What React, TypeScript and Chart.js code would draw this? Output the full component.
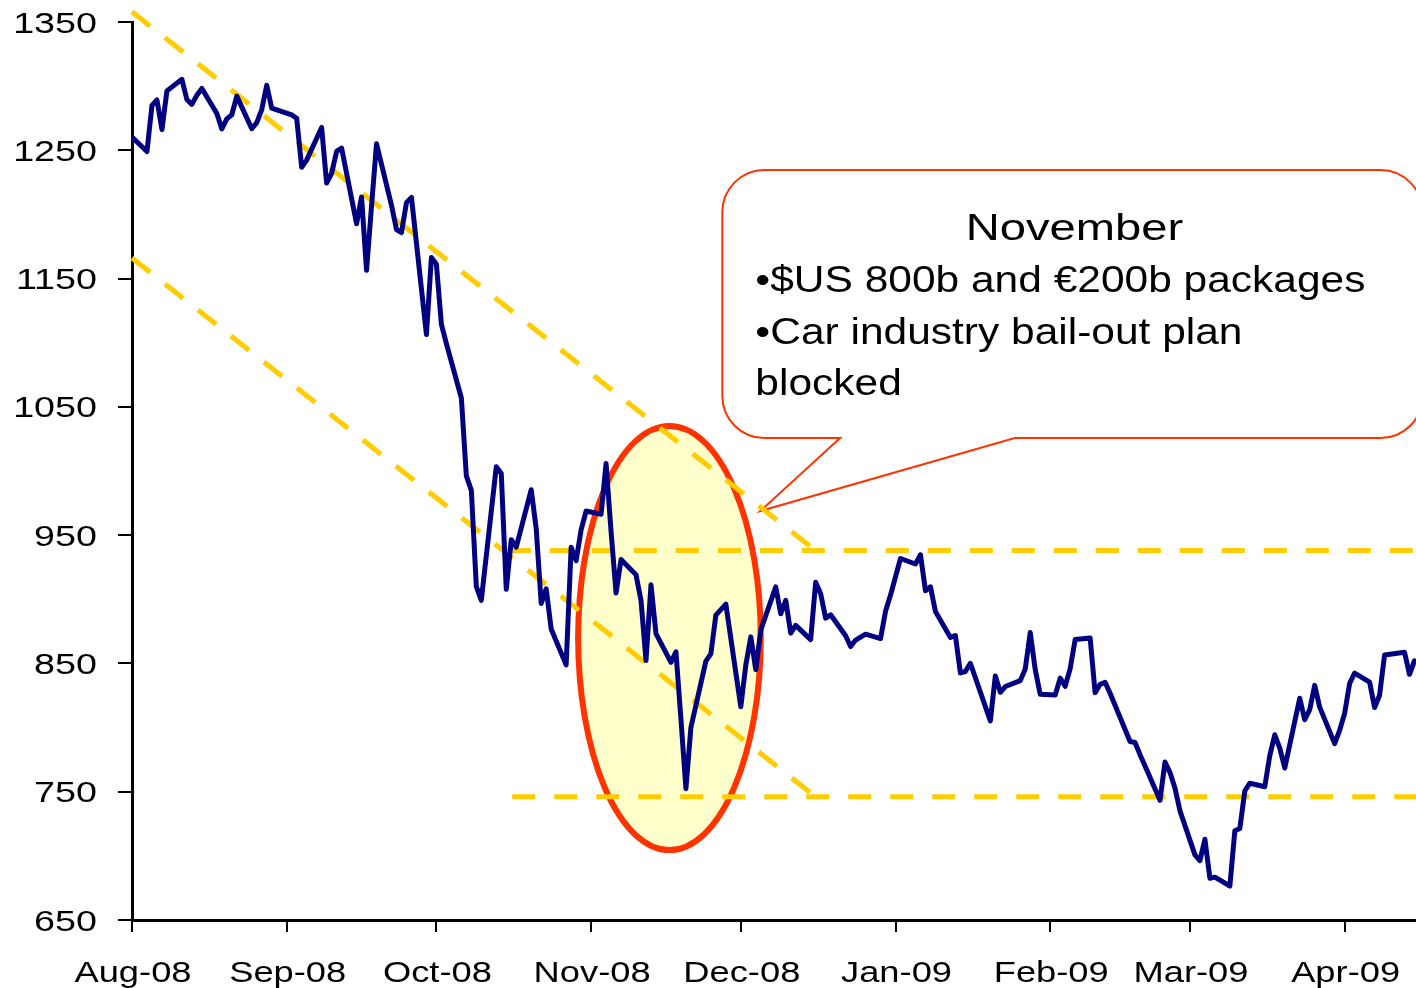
import React, { useEffect, useRef } from "react";
import { Chart, registerables } from "chart.js";

Chart.register(...registerables);

// ---- Data (daily closes, Aug-08 .. Apr-09) ----
const tradeDates: string[] = [
  "2008-08-01","2008-08-04","2008-08-05","2008-08-06","2008-08-07","2008-08-08","2008-08-11","2008-08-12","2008-08-13","2008-08-14","2008-08-15","2008-08-18","2008-08-19","2008-08-20","2008-08-21","2008-08-22","2008-08-25","2008-08-26","2008-08-27","2008-08-28","2008-08-29",
  "2008-09-02","2008-09-03","2008-09-04","2008-09-05","2008-09-08","2008-09-09","2008-09-10","2008-09-11","2008-09-12","2008-09-15","2008-09-16","2008-09-17","2008-09-18","2008-09-19","2008-09-22","2008-09-23","2008-09-24","2008-09-25","2008-09-26","2008-09-29","2008-09-30",
  "2008-10-01","2008-10-02","2008-10-03","2008-10-06","2008-10-07","2008-10-08","2008-10-09","2008-10-10","2008-10-13","2008-10-14","2008-10-15","2008-10-16","2008-10-17","2008-10-20","2008-10-21","2008-10-22","2008-10-23","2008-10-24","2008-10-27","2008-10-28","2008-10-29","2008-10-30","2008-10-31",
  "2008-11-03","2008-11-04","2008-11-05","2008-11-06","2008-11-07","2008-11-10","2008-11-11","2008-11-12","2008-11-13","2008-11-14","2008-11-17","2008-11-18","2008-11-19","2008-11-20","2008-11-21","2008-11-24","2008-11-25","2008-11-26","2008-11-28",
  "2008-12-01","2008-12-02","2008-12-03","2008-12-04","2008-12-05","2008-12-08","2008-12-09","2008-12-10","2008-12-11","2008-12-12","2008-12-15","2008-12-16","2008-12-17","2008-12-18","2008-12-19","2008-12-22","2008-12-23","2008-12-24","2008-12-26","2008-12-29","2008-12-30","2008-12-31",
  "2009-01-02","2009-01-05","2009-01-06","2009-01-07","2009-01-08","2009-01-09","2009-01-12","2009-01-13","2009-01-14","2009-01-15","2009-01-16","2009-01-20","2009-01-21","2009-01-22","2009-01-23","2009-01-26","2009-01-27","2009-01-28","2009-01-29","2009-01-30",
  "2009-02-02","2009-02-03","2009-02-04","2009-02-05","2009-02-06","2009-02-09","2009-02-10","2009-02-11","2009-02-12","2009-02-13","2009-02-17","2009-02-18","2009-02-19","2009-02-20","2009-02-23","2009-02-24","2009-02-25","2009-02-26","2009-02-27",
  "2009-03-02","2009-03-03","2009-03-04","2009-03-05","2009-03-06","2009-03-09","2009-03-10","2009-03-11","2009-03-12","2009-03-13","2009-03-16","2009-03-17","2009-03-18","2009-03-19","2009-03-20","2009-03-23","2009-03-24","2009-03-25","2009-03-26","2009-03-27","2009-03-30","2009-03-31",
  "2009-04-01","2009-04-02","2009-04-03","2009-04-06","2009-04-07","2009-04-08","2009-04-09","2009-04-13","2009-04-14","2009-04-15",
];

const closes: number[] = [
  1260.3,1249.0,1284.9,1289.2,1266.1,1296.3,1305.3,1289.6,1285.8,1292.9,1298.2,1278.6,1266.7,1274.5,1277.7,1292.2,1266.8,1271.5,1281.7,1300.7,1282.8,
  1277.6,1275.0,1236.8,1242.3,1267.8,1224.5,1232.0,1249.1,1251.7,1192.7,1213.6,1156.4,1206.5,1255.1,1207.1,1188.2,1185.9,1209.2,1213.3,1106.4,1166.4,
  1161.1,1114.3,1099.2,1056.9,996.2,984.9,909.9,899.2,1003.4,998.0,907.8,946.4,940.6,985.4,955.1,896.8,908.1,876.8,848.9,940.5,930.1,954.1,968.8,
  966.3,1005.8,952.8,904.9,931.0,919.2,899.0,852.3,911.3,873.3,850.8,859.1,806.6,752.4,800.0,851.8,857.4,887.7,896.2,
  816.2,848.8,870.7,845.2,876.1,909.7,888.7,899.2,873.6,879.7,868.6,913.2,904.4,885.3,887.9,871.6,863.2,868.2,872.8,869.4,890.6,903.3,
  931.8,927.5,934.7,906.7,909.7,890.4,870.3,871.8,842.6,843.7,850.1,805.2,840.2,827.5,832.0,836.6,845.7,874.1,845.1,825.9,
  825.4,838.5,832.2,845.9,868.6,869.9,827.2,833.7,835.2,826.8,789.2,788.4,778.9,770.1,743.3,773.1,764.9,752.8,735.1,
  700.8,696.3,712.9,682.6,683.4,676.5,719.6,721.4,750.7,756.6,753.9,778.1,794.4,784.0,768.5,822.9,806.1,813.9,832.9,815.9,787.5,797.9,
  811.1,834.4,842.5,835.5,815.6,825.2,856.6,858.7,841.5,852.1,
];

const monthTickDates = ["2008-08-01","2008-09-01","2008-10-01","2008-11-01","2008-12-01","2009-01-01","2009-02-01","2009-03-01","2009-04-01"];
const monthTickLabels = ["Aug-08","Sep-08","Oct-08","Nov-08","Dec-08","Jan-09","Feb-09","Mar-09","Apr-09"];
const yTickValues = [650, 750, 850, 950, 1050, 1150, 1250, 1350];

// trend channel (day offset from 1 Aug 2008, index level)
const channelUpperDays = [0, 137];
const channelUpperValues = [1358, 938];
const channelLowerDays = [0, 137];
const channelLowerValues = [1166, 746];
const resistanceDays = [75.3, 257.3];
const resistanceValues = [938, 938];
const supportDays = [76.2, 257.3];
const supportValues = [746, 746];

const calloutTitle = "November";
const calloutLines = ["•$US 800b and €200b packages", "•Car industry bail-out plan", "blocked"];

const X_MIN = 0;
const X_MAX = 257.3;
const Y_MIN = 650;
const Y_MAX = 1350;

const FONT = "'Liberation Sans', Arial, sans-serif";

const dayOf = (iso: string) => {
  const [y, m, d] = iso.split("-").map(Number);
  return (Date.UTC(y, m - 1, d) - Date.UTC(2008, 7, 1)) / 86400000;
};

const pts = (xs: number[], ys: number[]) => xs.map((x, i) => ({ x, y: ys[i] }));

const annotPlugin = {
  id: "annot",
  beforeDatasetsDraw(chart: any) {
    const { ctx } = chart;
    const xs = chart.scales.x;
    const ys = chart.scales.y;
    const px = (d: number) => xs.getPixelForValue(d);
    const py = (v: number) => ys.getPixelForValue(v);

    // highlight ellipse around November
    const ecx = px(107.7), ecy = py(869.8);
    const erx = px(107.7 + 18.3) - ecx;
    const ery = ecy - py(869.8 + 165.3);
    ctx.save();
    ctx.beginPath();
    ctx.ellipse(ecx, ecy, erx, ery, 0, 0, Math.PI * 2);
    ctx.fillStyle = "#FFFFCC";
    ctx.fill();
    ctx.lineWidth = 6;
    ctx.strokeStyle = "#FF3300";
    ctx.stroke();
    ctx.restore();

    // callout box
    const L = px(118.3), R = px(258.6), T = py(1234.6), B = py(1025.7);
    const r = 42;
    const b1 = px(141.9), b2 = px(176.9);
    const tx = px(125.9), ty = py(968.8);
    ctx.save();
    ctx.beginPath();
    ctx.moveTo(L + r, T);
    ctx.lineTo(R - r, T);
    ctx.arcTo(R, T, R, T + r, r);
    ctx.lineTo(R, B - r);
    ctx.arcTo(R, B, R - r, B, r);
    ctx.lineTo(b2, B);
    ctx.lineTo(tx, ty);
    ctx.lineTo(b1, B);
    ctx.lineTo(L + r, B);
    ctx.arcTo(L, B, L, B - r, r);
    ctx.lineTo(L, T + r);
    ctx.arcTo(L, T, L + r, T, r);
    ctx.closePath();
    ctx.fillStyle = "#FFFFFF";
    ctx.fill();
    ctx.lineWidth = 2;
    ctx.strokeStyle = "#FF3300";
    ctx.stroke();

    ctx.fillStyle = "#000000";
    ctx.font = `36px ${FONT}`;
    ctx.textBaseline = "alphabetic";
    // title
    ctx.save();
    ctx.translate((L + R) / 2 + 2, T + 70);
    ctx.scale(1.31, 1);
    ctx.textAlign = "center";
    ctx.fillText(calloutTitle, 0, 0);
    ctx.restore();
    // bullet lines
    calloutLines.forEach((line, i) => {
      ctx.save();
      ctx.translate(L + 33, T + 122 + i * 51.5);
      ctx.scale(1.18, 1);
      ctx.textAlign = "left";
      ctx.fillText(line, 0, 0);
      ctx.restore();
    });
    ctx.restore();
  },
  afterDraw(chart: any) {
    const { ctx } = chart;
    const xs = chart.scales.x;
    const ys = chart.scales.y;
    ctx.save();
    ctx.fillStyle = "#000000";
    ctx.textBaseline = "alphabetic";
    // y labels
    ctx.font = `29px ${FONT}`;
    yTickValues.forEach((v) => {
      const y = ys.getPixelForValue(v);
      ctx.save();
      ctx.translate(97, y + 10.5);
      ctx.scale(1.3, 1);
      ctx.textAlign = "right";
      ctx.fillText(String(v), 0, 0);
      ctx.restore();
    });
    // x labels
    ctx.font = `30px ${FONT}`;
    monthTickDates.forEach((d, i) => {
      const x = xs.getPixelForValue(dayOf(d));
      ctx.save();
      ctx.translate(x + 1, ys.bottom + 61.5);
      ctx.scale(1.21, 1);
      ctx.textAlign = "center";
      ctx.fillText(monthTickLabels[i], 0, 0);
      ctx.restore();
    });
    ctx.restore();
  },
};

export default function App() {
  const canvasRef = useRef<HTMLCanvasElement | null>(null);

  useEffect(() => {
    const canvas = canvasRef.current;
    if (!canvas) return;
    const dash = {
      borderColor: "#FFCC00",
      borderWidth: 5,
      borderDash: [23, 19],
      pointRadius: 0,
      fill: false,
      tension: 0,
      clip: false as any,
    };
    const chart = new Chart(canvas, {
      type: "line",
      data: {
        datasets: [
          {
            label: "Index",
            data: pts(tradeDates.map(dayOf), closes),
            borderColor: "#000080",
            borderWidth: 5,
            pointRadius: 0,
            tension: 0,
            fill: false,
            borderJoinStyle: "round",
            borderCapStyle: "round",
          },
          { label: "upper", data: pts(channelUpperDays, channelUpperValues), ...dash },
          { label: "lower", data: pts(channelLowerDays, channelLowerValues), ...dash },
          { label: "resistance", data: pts(resistanceDays, resistanceValues), ...dash },
          { label: "support", data: pts(supportDays, supportValues), ...dash },
        ],
      },
      options: {
        responsive: false,
        animation: false,
        devicePixelRatio: 1,
        events: [],
        layout: { padding: { top: 22, right: 0, bottom: 0, left: 0 } },
        plugins: {
          legend: { display: false },
          tooltip: { enabled: false },
          title: { display: false },
        },
        scales: {
          x: {
            type: "linear",
            min: X_MIN,
            max: X_MAX,
            afterBuildTicks: (s: any) => {
              s.ticks = monthTickDates.map((d) => ({ value: dayOf(d) }));
            },
            afterFit: (s: any) => {
              s.height = 68;
            },
            grid: { drawOnChartArea: false, drawTicks: true, tickLength: 12, color: "#000", lineWidth: 2 },
            border: { display: true, color: "#000", width: 3 },
            ticks: { display: false },
          },
          y: {
            type: "linear",
            min: Y_MIN,
            max: Y_MAX,
            afterBuildTicks: (s: any) => {
              s.ticks = yTickValues.map((v) => ({ value: v }));
            },
            afterFit: (s: any) => {
              s.width = 132;
            },
            grid: { drawOnChartArea: false, drawTicks: true, tickLength: 14, color: "#000", lineWidth: 2 },
            border: { display: true, color: "#000", width: 3 },
            ticks: { display: false },
          },
        },
      },
      plugins: [annotPlugin],
    } as any);
    return () => chart.destroy();
  }, []);

  return (
    <div style={{ position: "fixed", left: 0, top: 0, width: 1416, height: 988, background: "#fff" }}>
      <canvas ref={canvasRef} width={1416} height={988} style={{ display: "block", width: 1416, height: 988 }} />
    </div>
  );
}
